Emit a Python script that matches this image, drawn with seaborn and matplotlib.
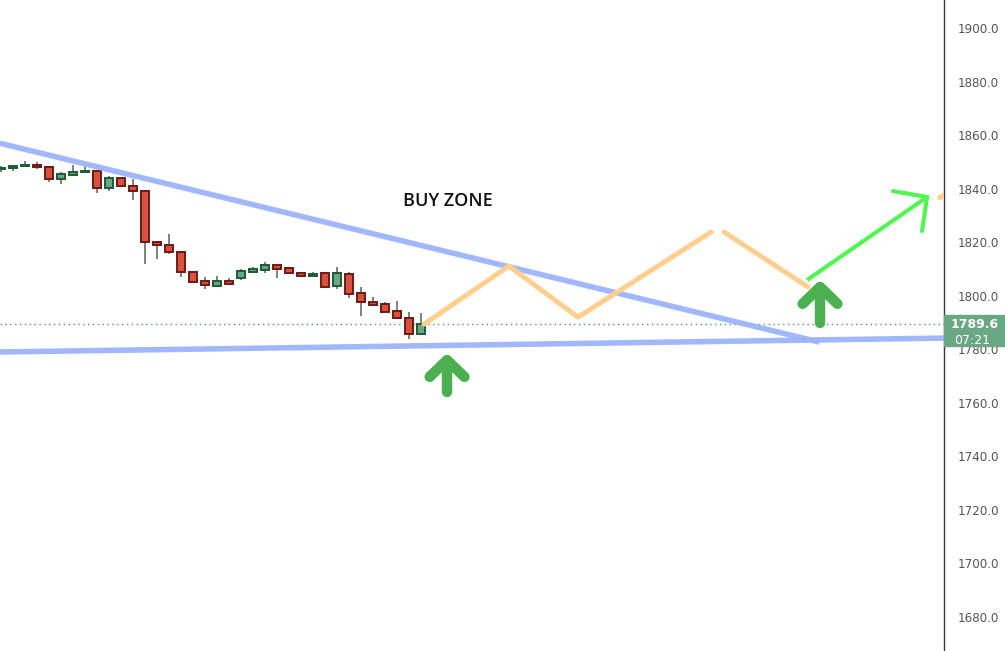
import matplotlib
matplotlib.use("Agg")
import matplotlib.pyplot as plt
from matplotlib.patches import Rectangle
import numpy as np
import pandas as pd
import seaborn as sns

sns.set_style("white")

# OHLC candles (oldest first)
opens  = [1847.3, 1847.6, 1848.5, 1848.7, 1848.0, 1843.5, 1845.0, 1846.3, 1846.6, 1840.3,
          1844.0, 1841.2, 1839.1, 1820.0, 1818.9, 1816.2, 1808.7, 1805.4, 1803.7, 1805.4,
          1806.7, 1809.0, 1809.7, 1811.4, 1810.2, 1808.4, 1807.5, 1808.4, 1803.7, 1808.0,
          1800.9, 1797.5, 1796.8, 1794.3, 1791.7, 1785.8]
highs  = [1848.4, 1848.3, 1850.3, 1849.9, 1848.1, 1846.2, 1848.7, 1848.4, 1846.8, 1844.7,
          1844.3, 1843.6, 1839.3, 1820.4, 1823.0, 1816.7, 1809.1, 1807.1, 1807.4, 1806.6,
          1810.1, 1810.7, 1812.6, 1811.5, 1810.6, 1808.9, 1808.7, 1808.5, 1810.7, 1808.9,
          1803.3, 1799.5, 1797.6, 1798.0, 1793.9, 1793.5]
lows   = [1846.2, 1846.8, 1848.3, 1847.2, 1842.4, 1841.6, 1844.9, 1846.3, 1838.5, 1839.1,
          1841.2, 1835.9, 1811.8, 1813.8, 1815.5, 1807.1, 1805.1, 1802.6, 1803.4, 1804.4,
          1805.9, 1808.6, 1808.6, 1806.7, 1808.3, 1807.1, 1807.4, 1803.3, 1802.6, 1799.3,
          1792.5, 1796.3, 1793.9, 1791.4, 1784.0, 1785.4]
closes = [1847.9, 1848.3, 1848.7, 1848.0, 1843.5, 1845.5, 1846.2, 1846.6, 1840.3, 1844.0,
          1841.2, 1839.0, 1820.0, 1818.8, 1816.2, 1808.7, 1805.2, 1804.1, 1805.4, 1804.5,
          1809.1, 1809.9, 1811.4, 1810.1, 1808.4, 1807.5, 1808.1, 1803.4, 1808.4, 1800.7,
          1797.8, 1796.6, 1794.0, 1791.8, 1785.8, 1789.6]
last_price = 1789.6
last_time = "07:21"

# drawn trend lines (bar index, price)
upper_x, upper_y = [-0.1, 68.2], [1857.0, 1782.7]
lower_x, lower_y = [-0.1, 78.6], [1779.0, 1784.2]
# projected zigzag (two pieces) and target arrow
zig1_x, zig1_y = [35.25, 42.33, 48.08, 59.17], [1789.4, 1811.1, 1792.0, 1823.8]
zig2_x, zig2_y = [60.25, 67.25], [1823.8, 1803.3]
tgt_x, tgt_y = [67.17, 77.17], [1805.9, 1836.9]
tgt_head_x, tgt_head_y = [74.33, 77.17, 76.75], [1839.1, 1836.9, 1824.2]
# big "up" arrows: centre bar index, bottom / top price
up_arrow_x = [37.17, 68.25]
up_arrow_lo = [1763.9, 1789.8]
up_arrow_hi = [1776.0, 1803.3]

yticks = np.arange(1680, 1901, 20)

df = pd.DataFrame({"o": opens, "h": highs, "l": lows, "c": closes})
df["i"] = np.arange(len(df))
up = df["c"] >= df["o"]

W, H = 1005, 651
fig = plt.figure(figsize=(W / 100, H / 100), dpi=100)
ax = fig.add_axes([0, 0, 944 / W, 1])

# wicks
ax.vlines(df["i"], df["l"], df["h"], color="#6b6b6b", lw=1.2, zorder=2)
# bodies
for is_up, fc, ec in [(True, "#6aa783", "#1f5a36"), (False, "#d9513f", "#6e1a14")]:
    d = df[up == is_up]
    ax.bar(d["i"], (d["c"] - d["o"]).abs().clip(lower=0.25), bottom=np.minimum(d["o"], d["c"]),
           width=0.74, color=fc, edgecolor=ec, linewidth=1.4, zorder=3)

blue = "#9db4fc"
sns.lineplot(x=upper_x, y=upper_y, ax=ax, color=blue, lw=4, alpha=0.95, zorder=4,
             solid_capstyle="butt")
sns.lineplot(x=lower_x, y=lower_y, ax=ax, color=blue, lw=4, alpha=0.95, zorder=4,
             solid_capstyle="butt")

orange = "#ffcf8f"
sns.lineplot(x=zig1_x, y=zig1_y, ax=ax, color=orange, lw=3.6, zorder=4, sort=False)
sns.lineplot(x=zig2_x, y=zig2_y, ax=ax, color=orange, lw=3.6, zorder=4, sort=False)
ax.plot([78.2, 78.8], [1836.6, 1838.2], color=orange, lw=3.6, zorder=4)

lime = "#52f552"
ax.plot(tgt_x, tgt_y, color=lime, lw=3, zorder=5, solid_capstyle="butt")
ax.plot(tgt_head_x, tgt_head_y, color=lime, lw=3, zorder=5, solid_joinstyle="miter")

# big rounded up arrows
arrow_green = "#4caf50"
for x, lo, hi in zip(up_arrow_x, up_arrow_lo, up_arrow_hi):
    ax.plot([x, x], [lo, hi - 0.8], color=arrow_green, lw=7.5, solid_capstyle="round", zorder=5)
    ax.plot([x - 1.45, x, x + 1.45], [hi - 6.3, hi, hi - 6.3], color=arrow_green, lw=7.5,
            solid_capstyle="round", solid_joinstyle="round", zorder=5)

# current price dotted line
ax.axhline(last_price, color="#4e9a6e", lw=1, ls=(0, (1, 2.5)), zorder=1)

ax.text(37.25, 1835.4, "BUY ZONE", ha="center", va="center", fontsize=13,
        family="Open Sans", fontweight="semibold", color="#111111")

ax.set_xlim(-0.08, 78.58)
ax.set_ylim(1667.3, 1910.5)
ax.set_yticks(yticks)
ax.set_yticklabels([f"{v:.1f}" for v in yticks])
ax.yaxis.tick_right()
ax.tick_params(axis="y", length=0, pad=10, labelsize=8.6, labelcolor="#555555")
ax.set_xticks([])
for s in ["left", "top", "bottom"]:
    ax.spines[s].set_visible(False)
ax.spines["right"].set_color("#3a3a3a")
ax.spines["right"].set_linewidth(1)

# price tag on the axis
fig.patches.append(Rectangle((944 / W, 1 - 346 / H), 60 / W, 31 / H,
                             transform=fig.transFigure, color="#6aa783", zorder=5))
fig.text(975 / W, 1 - 324 / H, f"{last_price:.1f}", ha="center", va="center",
         color="white", fontsize=9, fontweight="bold", zorder=6)
fig.text(972 / W, 1 - 340 / H, last_time, ha="center", va="center",
         color="white", fontsize=9, zorder=6)

fig.savefig("out.png", dpi=100)
